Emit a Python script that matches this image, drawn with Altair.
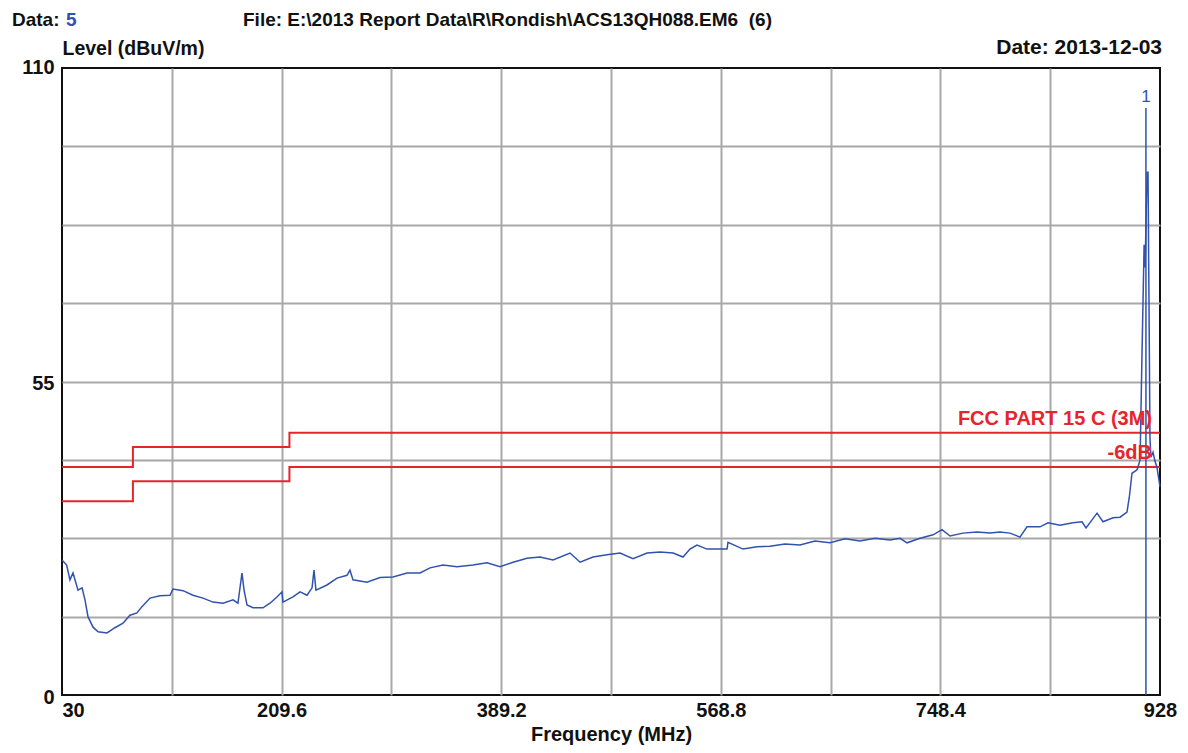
import altair as alt
import pandas as pd

# ---- measured trace (frequency MHz, level dBuV/m) ----
freq = [30.0, 33.8, 36.5, 39.0, 43.1, 46.4, 48.8, 51.3, 55.4, 59.5, 66.8, 73.3, 79.9, 85.6,
        91.3, 95.4, 102.0, 110.1, 118.3, 120.8, 129.0, 137.1, 145.3, 153.5, 161.7, 169.9,
        173.9, 177.2, 178.9, 181.3, 186.2, 194.4, 200.1, 205.8, 209.9, 210.7, 218.9, 224.7,
        230.4, 234.5, 236.1, 237.7, 246.7, 254.9, 263.1, 265.5, 268.0, 279.4, 290.1, 300.7,
        312.2, 322.8, 331.0, 341.6, 353.1, 366.1, 377.6, 388.2, 398.9, 410.3, 420.9, 431.6,
        445.5, 453.7, 464.3, 475.7, 486.4, 497.0, 508.5, 519.1, 529.8, 537.9, 543.6, 549.3,
        557.5, 573.9, 574.7, 587.0, 598.4, 609.0, 621.3, 633.6, 645.8, 658.1, 670.4, 682.6,
        694.9, 707.2, 715.4, 721.1, 731.7, 742.4, 749.7,
        756.3, 766.9, 778.3, 789.0, 797.1, 805.3, 813.5, 819.2, 829.9, 836.4, 846.2, 856.8,
        864.2, 867.5, 876.5, 881.4, 889.6, 895.3, 901.0, 902.9, 905.1, 909.2, 911.7, 913.3,
        915.0, 915.8, 917.4, 918.2, 919.0, 919.8, 920.6, 922.3, 923.9, 925.5, 928.0]
level = [23.7, 22.8, 20.2, 21.4, 18.4, 18.8, 16.7, 13.7, 11.9, 11.1, 10.9, 11.8, 12.6, 14.0,
         14.4, 15.5, 17.0, 17.4, 17.5, 18.6, 18.3, 17.5, 17.0, 16.3, 16.1, 16.7,
         16.1, 21.4, 18.4, 15.8, 15.3, 15.3, 16.1, 17.2, 18.1, 16.3, 17.2, 18.1,
         17.5, 18.8, 21.9, 18.4, 19.3, 20.5, 21.0, 21.9, 20.2, 19.8, 20.6, 20.7,
         21.4, 21.4, 22.3, 22.8, 22.5, 22.8, 23.2, 22.5, 23.3, 24.0, 24.2, 23.7,
         24.9, 23.3, 24.2, 24.6, 24.9, 23.9, 24.9, 25.1, 24.9, 24.2, 25.6, 26.3,
         25.6, 25.6, 26.8, 25.6, 26.0, 26.1, 26.5, 26.3, 27.0, 26.7, 27.4, 27.0,
         27.5, 27.2, 27.5, 26.7, 27.5, 28.1, 29.0,
         27.9, 28.4, 28.6, 28.4, 28.6, 28.4, 27.7, 29.5, 29.5, 30.2, 29.8, 30.2,
         30.4, 29.3, 31.9, 30.4, 31.1, 31.2, 32.1, 34.7, 38.9, 39.5, 41.2, 60.0,
         79.0, 75.0, 91.7, 91.7, 69.0, 45.0, 41.7, 42.6, 41.0, 40.0, 36.5]

# ---- limit lines ----
limit_freq = [30, 88, 216, 928]
limit_level = [40, 43.5, 46, 46]
margin_level = [34, 37.5, 40, 40]

# ---- marker ----
marker_freq = [916.5]
marker_level = [103.0]
marker_base = [0.0]
marker_label = ["1"]

# ---- axes ----
x_grid = [30, 119.8, 209.6, 299.4, 389.2, 479, 568.8, 658.6, 748.4, 838.2, 928]
x_labels = [30, 209.6, 389.2, 568.8, 748.4, 928]
y_grid = [0, 13.75, 27.5, 41.25, 55, 68.75, 82.5, 96.25, 110]
y_labels = [0, 55, 110]

BLUE = "#3152ad"
RED = "#e8242b"
GRID = "#a8a8a8"
FONT = "Liberation Sans"

trace_df = pd.DataFrame({"f": freq, "v": level})
lim_df = pd.DataFrame({
    "f": limit_freq + limit_freq,
    "v": limit_level + margin_level,
    "s": ["limit"] * len(limit_freq) + ["margin"] * len(limit_freq),
})
mk_df = pd.DataFrame({"f": marker_freq, "v": marker_level, "b": marker_base, "t": marker_label})
lim_text_df = pd.DataFrame({
    "f": [limit_freq[-1], limit_freq[-1]],
    "v": [limit_level[-1], margin_level[-1]],
    "t": ["FCC PART 15 C (3M)", "-6dB"],
})

xs = alt.Scale(domain=[30, 928], nice=False, zero=False)
ys = alt.Scale(domain=[0, 110], nice=False, zero=False)

x_label_expr = "indexof(%s, datum.value) >= 0 ? format(datum.value, '.1~f') : ''" % str(x_labels)
y_label_expr = "indexof(%s, datum.value) >= 0 ? format(datum.value, 'd') : ''" % str(y_labels)

xaxis = alt.Axis(
    values=x_grid, labelExpr=x_label_expr, grid=True, gridColor=GRID, gridWidth=2,
    gridOpacity={"condition": {"test": "datum.value == 30 || datum.value == 928", "value": 0}, "value": 1},
    ticks=False, domain=False, labelFont=FONT, labelFontSize=20, labelFontWeight="bold",
    labelColor="#111", labelPadding=5, labelOverlap=False,
    labelAlign={"condition": {"test": "datum.value == 30", "value": "left"}, "value": "center"},
    title="Frequency (MHz)", titleFont=FONT, titleFontSize=20, titleFontWeight="bold",
    titleColor="#111", titleBaseline="alphabetic", titleY=45,
)
yaxis = alt.Axis(
    values=y_grid, labelExpr=y_label_expr, grid=True, gridColor=GRID, gridWidth=2,
    gridOpacity={"condition": {"test": "datum.value == 0 || datum.value == 110", "value": 0}, "value": 1},
    ticks=False, domain=False, labelFont=FONT, labelFontSize=20, labelFontWeight="bold",
    labelColor="#111", labelPadding=8, labelOverlap=False,
    labelOffset={"condition": {"test": "datum.value == 110", "value": -1}, "value": 2},
    title="Level (dBuV/m)", titleFont=FONT, titleFontSize=19.5, titleFontWeight="bold",
    titleColor="#111", titleAngle=0, titleAlign="left", titleBaseline="alphabetic",
    titleX=0, titleY=-14,
)

X = alt.X("f:Q", scale=xs, axis=xaxis)
Y = alt.Y("v:Q", scale=ys, axis=yaxis)

limits = alt.Chart(lim_df).mark_line(interpolate="step-after", color=RED, strokeWidth=2).encode(
    x=X, y=Y, detail="s:N"
)
trace = alt.Chart(trace_df).mark_line(color=BLUE, strokeWidth=1.5).encode(
    x=alt.X("f:Q", scale=xs), y=alt.Y("v:Q", scale=ys)
)
marker_rule = alt.Chart(mk_df).mark_rule(color=BLUE, strokeWidth=1.5).encode(
    x=alt.X("f:Q", scale=xs), y=alt.Y("b:Q", scale=ys), y2=alt.Y2("v:Q")
)
marker_text = alt.Chart(mk_df).mark_text(
    color=BLUE, font=FONT, fontSize=17, baseline="alphabetic", dy=-6
).encode(x=alt.X("f:Q", scale=xs), y=alt.Y("v:Q", scale=ys), text="t:N")
lim_text = alt.Chart(lim_text_df).mark_text(
    color=RED, font=FONT, fontSize=20, fontWeight="bold", align="right",
    baseline="alphabetic", dx=-8, dy=-8
).encode(x=alt.X("f:Q", scale=xs), y=alt.Y("v:Q", scale=ys), text="t:N")

hdr_df = pd.DataFrame({"k": [0]})
def hdr(text, x, y, color="#111", align="left", size=19):
    return alt.Chart(hdr_df).mark_text(
        text=text, color=color, font=FONT, fontSize=size, fontWeight="bold",
        align=align, baseline="alphabetic"
    ).encode(x=alt.value(x), y=alt.value(y))

headers = [
    hdr("Data:", -50, -42),
    hdr("5", 4, -42, color=BLUE),
    hdr("File: E:\\2013 Report Data\\R\\Rondish\\ACS13QH088.EM6\u00a0\u00a0(6)", 181, -42),
    hdr("Date: 2013-12-03", 1100, -14, align="right", size=21),
]

chart = alt.layer(limits, trace, marker_rule, marker_text, lim_text, *headers).properties(
    width=1098, height=627,
    autosize=alt.AutoSizeParams(type="none"),
    padding={"left": 54, "top": 60, "right": 20, "bottom": 50},
    background="white",
).configure_view(stroke="#111", strokeWidth=2)

chart.save("out.html", embed_options={"renderer": "svg", "actions": False})
